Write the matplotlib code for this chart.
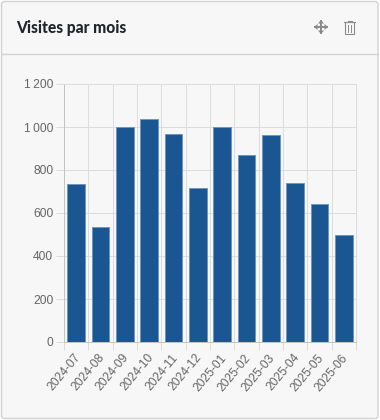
import matplotlib
matplotlib.use("Agg")
import matplotlib.pyplot as plt
from matplotlib.patches import FancyBboxPatch, Rectangle, Polygon
from matplotlib.lines import Line2D
from matplotlib.transforms import ScaledTranslation

# --- Data ---
months = ["2024-07", "2024-08", "2024-09", "2024-10", "2024-11", "2024-12",
          "2025-01", "2025-02", "2025-03", "2025-04", "2025-05", "2025-06"]
visits = [737, 537, 1000, 1037, 968, 717, 1000, 870, 963, 738, 640, 497]
y_ticks = [0, 200, 400, 600, 800, 1000, 1200]
y_labels = ["0", "200", "400", "600", "800", "1\u2009000", "1\u2009200"]

W, H = 380, 420
BG = "#f7f7f7"
BORDER = "#d2d2d2"
GRID = "#dcdcdc"
BAR = "#1a5792"
BAR_EDGE = "#6f96bd"
TEXT = "#666666"
ICON = "#8a8a8a"
LW = 0.72  # one pixel at dpi 100


def px(x, y):
    # pixel position (from top left) -> figure fraction
    return x / W, 1 - y / H


fig = plt.figure(figsize=(W / 100, H / 100), dpi=100)
fig.patch.set_facecolor("white")

# --- Card (zorder below the axes) ---
card = FancyBboxPatch((1.5 / W, 1 - 418.5 / H), 376.5 / W, 417 / H,
                      boxstyle="round,pad=0,rounding_size=0.008",
                      transform=fig.transFigure, facecolor=BG, edgecolor=BORDER,
                      linewidth=1.0, mutation_aspect=W / H, zorder=-5)
fig.add_artist(card)
fig.add_artist(Line2D([1.5 / W, 378 / W], [1 - 53.5 / H] * 2, color=BORDER, lw=1.0))

fig.text(16.5 / W, 1 - 27.5 / H, "Visites par mois", fontsize=11.2, fontweight="black",
         family="Lato", color="#212529", va="center", ha="left")

# --- Move icon ---
cx, cy = 321, 27
for pts in ([(cx - 6, cy), (cx + 6, cy)], [(cx, cy - 6), (cx, cy + 6)]):
    fig.add_artist(Line2D([p[0] / W for p in pts], [1 - p[1] / H for p in pts],
                          color=ICON, lw=1.4))
for tri in ([(cx - 7, cy), (cx - 3.5, cy - 3), (cx - 3.5, cy + 3)],
            [(cx + 7, cy), (cx + 3.5, cy - 3), (cx + 3.5, cy + 3)],
            [(cx, cy - 7), (cx - 3, cy - 3.5), (cx + 3, cy - 3.5)],
            [(cx, cy + 7), (cx - 3, cy + 3.5), (cx + 3, cy + 3.5)]):
    fig.add_artist(Polygon([px(*p) for p in tri], closed=True, facecolor=ICON,
                           edgecolor="none", transform=fig.transFigure))

# --- Trash icon ---
fig.add_artist(Rectangle((345 / W, 1 - 33.5 / H), 9 / W, 11.5 / H, fill=False,
                         edgecolor=ICON, lw=0.8, transform=fig.transFigure))
fig.add_artist(Line2D([344 / W, 355 / W], [1 - 22 / H] * 2, color=ICON, lw=0.8))
fig.add_artist(Line2D([347.5 / W, 347.5 / W, 351.5 / W, 351.5 / W],
                      [1 - 22 / H, 1 - 20.5 / H, 1 - 20.5 / H, 1 - 22 / H], color=ICON, lw=0.8))
for xp in (348.2, 350.8):
    fig.add_artist(Line2D([xp / W, xp / W], [1 - 24.5 / H, 1 - 31.5 / H], color=ICON, lw=0.7))

# --- Chart ---
ax = fig.add_axes([64 / W, 1 - 342 / H, 292 / W, 258 / H])
ax.set_facecolor("none")
x = range(len(months))
ax.bar(x, visits, width=0.72, color=BAR, edgecolor=BAR_EDGE, linewidth=LW, zorder=3)

ax.set_xlim(-0.5, len(months) - 0.5)
ax.set_ylim(0, 1200)
ax.set_yticks(y_ticks)
ax.set_yticklabels(y_labels)
ax.set_xticks([i - 0.5 for i in x] + [len(months) - 0.5], minor=True)
ax.set_xticks(list(x))
ax.set_xticklabels(months, rotation=50, ha="right", rotation_mode="anchor")

ax.grid(True, axis="y", color=GRID, lw=LW, zorder=0)
ax.grid(True, axis="x", which="minor", color=GRID, lw=LW, zorder=0)
ax.set_axisbelow(True)
ax.tick_params(axis="x", which="major", length=0, pad=7, labelsize=8.64, labelcolor=TEXT)
ax.tick_params(axis="x", which="minor", length=5.8, width=LW, color=GRID)
ax.tick_params(axis="y", length=5.8, width=LW, color=GRID, pad=2, labelsize=8.64, labelcolor=TEXT)
shift = ScaledTranslation(-2.5 / 100, 0, fig.dpi_scale_trans)
for label in ax.get_xticklabels():
    label.set_family("Liberation Sans")
    label.set_transform(label.get_transform() + shift)
for label in ax.get_yticklabels():
    label.set_family("Liberation Sans")

for name in ("top", "right"):
    ax.spines[name].set_color(GRID)
    ax.spines[name].set_linewidth(LW)
for name in ("left", "bottom"):
    ax.spines[name].set_color("#c4c4c4")
    ax.spines[name].set_linewidth(LW)

fig.savefig("out.png", dpi=100, facecolor=fig.get_facecolor())
